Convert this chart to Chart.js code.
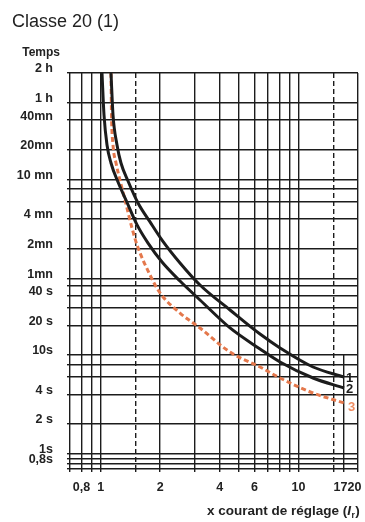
<!DOCTYPE html>
<html>
<head>
<meta charset="utf-8">
<script src="https://cdn.jsdelivr.net/npm/chart.js@4/dist/chart.umd.min.js"></script>
<style>
  html, body { margin: 0; padding: 0; background: #fff; }
  canvas { display: block; }
</style>
</head>
<body>
<canvas id="chart" width="365" height="522"></canvas>
<script>
// Multiples of the setting current (x axis, log scale)
const xGridValues = [0.7, 0.8, 0.9, 1, 1.5, 2, 3, 4, 5, 6, 7, 8, 9, 10, 15, 17, 20];
const xDashedValues = [1.5, 15];
const xTickLabels = { 0.8: '0,8', 1: '1', 2: '2', 4: '4', 6: '6', 10: '10', 17: '17\u2007', 20: '20\u2007' };

// Tripping time in seconds (y axis, log scale)
const yGridValues = [0.7, 0.8, 0.9, 1, 2, 4, 6, 8, 10, 20, 30, 40, 50, 60, 120, 240, 360, 480, 600, 1200, 2400, 3600, 7200];
const yTickLabels = {
  7200: '2 h', 3600: '1 h', 2400: '40mn', 1200: '20mn', 600: '10 mn', 240: '4 mn',
  120: '2mn', 60: '1mn', 40: '40 s', 20: '20 s', 10: '10s', 4: '4 s', 2: '2 s', 1: '1s', 0.8: '0,8s'
};

// Curve 1 (upper black curve)
const curve1Current = [1.128, 1.155, 1.21, 1.267, 1.375, 1.545, 1.777, 2.043, 2.519, 3.179, 4.509, 6.394, 8.069, 11.85, 17];
const curve1Time    = [7200, 2702, 1342, 882, 580, 347, 223, 146, 85.6, 51.2, 28.6, 16.3, 11.8, 7.56, 5.99];

// Curve 2 (lower black curve)
const curve2Current = [1.016, 1.04, 1.077, 1.128, 1.224, 1.343, 1.528, 1.736, 2.043, 2.519, 3.179, 4.509, 6.394, 8.069, 11.85, 17];
const curve2Time    = [7200, 2702, 1342, 882, 566, 372, 208, 136, 87.6, 56.2, 36.1, 18.8, 11.5, 8.5, 5.85, 4.63];

// Curve 3 (dashed curve)
const curve3Current = [1.128, 1.135, 1.155, 1.196, 1.252, 1.328, 1.44, 1.528, 1.777, 1.996, 2.519, 3.179, 4.509, 6.394, 8.069, 11.85, 17];
const curve3Time    = [7200, 2702, 1342, 882, 593, 372, 194, 130, 64.7, 42.5, 26.6, 18.8, 10.7, 7.56, 5.85, 4.12, 3.27];

const curveNames = ['1', '2', '3'];

const INK = '#1c1c1c';
const ORANGE = '#e4784c';
const GRID_WIDTH = 1.4;
const FONT_FAMILY = '"Liberation Sans", Arial, Helvetica, sans-serif';

function toPoints(xs, ys) {
  return xs.map((x, i) => ({ x: x, y: ys[i] }));
}

function alignPixel(p, w) {
  const half = w / 2;
  return Math.round(p - half) + half;
}

const annotations = {
  id: 'annotations',
  beforeDatasetsDraw(chart) {
    const { ctx, chartArea, scales } = chart;
    // short guide at 17 x Ir, from the 10 s line down through the frame
    const px = alignPixel(scales.x.getPixelForValue(17), GRID_WIDTH);
    ctx.save();
    ctx.strokeStyle = INK;
    ctx.lineWidth = GRID_WIDTH;
    ctx.beginPath();
    ctx.moveTo(px, scales.y.getPixelForValue(10));
    ctx.lineTo(px, chartArea.bottom + 3);
    ctx.stroke();
    ctx.restore();
  },
  afterDatasetsDraw(chart) {
    const { ctx } = chart;
    ctx.save();
    ctx.font = 'bold 13px ' + FONT_FAMILY;
    ctx.textAlign = 'left';
    ctx.textBaseline = 'middle';
    chart.data.datasets.forEach((ds, i) => {
      const meta = chart.getDatasetMeta(i);
      const last = meta.data[meta.data.length - 1];
      const dx = i === 2 ? 4 : 2;
      const dy = i === 2 ? 4 : 1;
      ctx.fillStyle = i === 2 ? '#f08d62' : INK;
      ctx.fillText(curveNames[i], last.x + dx, last.y + dy);
    });
    ctx.restore();
  },
  afterDraw(chart) {
    const { ctx } = chart;
    ctx.save();
    ctx.fillStyle = '#222';
    ctx.textBaseline = 'alphabetic';

    ctx.font = '18px ' + FONT_FAMILY;
    ctx.textAlign = 'left';
    ctx.fillText('Classe 20 (1)', 12, 27);

    ctx.font = 'bold 12px ' + FONT_FAMILY;
    ctx.textAlign = 'right';
    ctx.fillText('Temps', 60, 56);

    // axis title with italic I and subscript r
    ctx.textAlign = 'left';
    const big = 'bold 13.5px ' + FONT_FAMILY;
    const ital = 'italic bold 13.5px ' + FONT_FAMILY;
    const sub = 'bold 8.5px ' + FONT_FAMILY;
    const parts = [
      { t: 'x courant de réglage (', f: big, dy: 0, gap: 0 },
      { t: 'I', f: ital, dy: 0, gap: 0.5 },
      { t: 'r', f: sub, dy: 3, gap: 0.5 },
      { t: ')', f: big, dy: 0, gap: 0 }
    ];
    let x = 207;
    const baseY = 515;
    parts.forEach(p => {
      ctx.font = p.f;
      ctx.fillText(p.t, x, baseY + p.dy);
      x += ctx.measureText(p.t).width + p.gap;
    });
    ctx.restore();
  }
};

const tickFont = { family: FONT_FAMILY, size: 12.5, weight: 'bold' };

const lineStyle = { pointRadius: 0, borderWidth: 3, cubicInterpolationMode: 'monotone', fill: false };

new Chart(document.getElementById('chart'), {
  type: 'line',
  data: {
    datasets: [
      Object.assign({ data: toPoints(curve1Current, curve1Time), borderColor: INK }, lineStyle),
      Object.assign({ data: toPoints(curve2Current, curve2Time), borderColor: INK }, lineStyle),
      Object.assign({ data: toPoints(curve3Current, curve3Time), borderColor: ORANGE, borderDash: [5, 3] }, lineStyle)
    ]
  },
  options: {
    responsive: false,
    devicePixelRatio: 1,
    animation: false,
    layout: { padding: { top: 73, right: 7, left: 0, bottom: 0 } },
    plugins: { legend: { display: false }, tooltip: { enabled: false }, title: { display: false } },
    scales: {
      x: {
        type: 'logarithmic',
        min: 0.7,
        max: 20,
        afterBuildTicks(scale) { scale.ticks = xGridValues.map(v => ({ value: v })); },
        afterFit(scale) { scale.height = 53; scale.paddingLeft = 0; scale.paddingRight = 0; },
        grid: {
          color: ctx => (ctx.tick && ctx.tick.value === 17) ? 'rgba(0,0,0,0)' : INK,
          lineWidth: GRID_WIDTH,
          tickLength: 3,
          drawTicks: true
        },
        border: {
          display: false,
          dash: ctx => (ctx.tick && xDashedValues.includes(ctx.tick.value)) ? [5, 3] : []
        },
        ticks: {
          autoSkip: false,
          maxRotation: 0,
          minRotation: 0,
          padding: 8,
          color: '#222',
          font: tickFont,
          callback: v => xTickLabels[v] || ''
        }
      },
      y: {
        type: 'logarithmic',
        min: 0.7,
        max: 7200,
        afterBuildTicks(scale) { scale.ticks = yGridValues.map(v => ({ value: v })); },
        afterFit(scale) { scale.width = 70; scale.paddingTop = 0; scale.paddingBottom = 0; },
        grid: { color: INK, lineWidth: GRID_WIDTH, tickLength: 3, drawTicks: true },
        border: { display: false },
        ticks: {
          autoSkip: false,
          padding: 14,
          labelOffset: -4,
          color: '#222',
          font: tickFont,
          callback: v => yTickLabels[v] || ''
        }
      }
    }
  },
  plugins: [annotations]
});
</script>
</body>
</html>
